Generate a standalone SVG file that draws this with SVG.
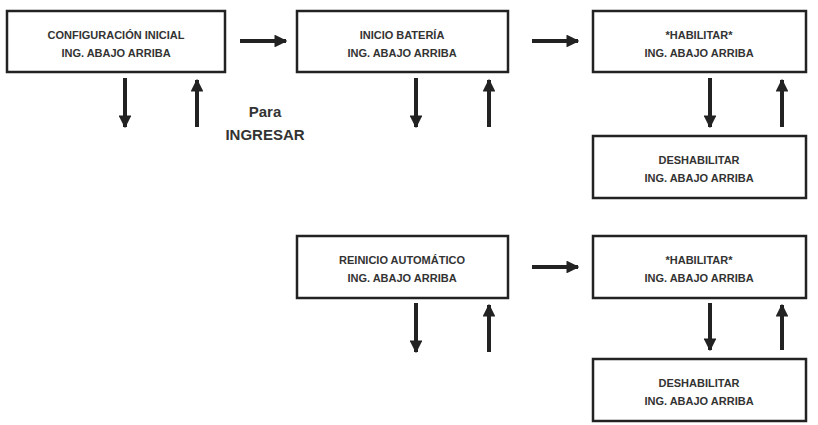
<svg xmlns="http://www.w3.org/2000/svg" width="818" height="425" viewBox="0 0 818 425">
<defs>
<marker id="ah" viewBox="0 0 10 10" refX="9" refY="5" markerWidth="3.2" markerHeight="3.2" orient="auto" markerUnits="strokeWidth"><path d="M0,0L10,5L0,10Z" fill="#222"/></marker>
</defs>
<style>
.b{fill:#fff;stroke:#222;stroke-width:2.5}
.t{font-family:"Liberation Sans",Arial,sans-serif;font-weight:bold;font-size:11px;fill:#333;text-anchor:middle}
.a{stroke:#222;stroke-width:4;fill:none;marker-end:url(#ah)}
.p{font-family:"Liberation Sans",Arial,sans-serif;font-weight:bold;font-size:15px;fill:#333;text-anchor:middle}
</style>
<rect width="818" height="425" fill="#fff"/>
<g id="n1"><rect class="b" x="7" y="11" width="218" height="61"/><text class="t" x="116" y="39">CONFIGURACIÓN INICIAL</text><text class="t" x="116" y="57">ING. ABAJO ARRIBA</text></g>
<g id="n2"><rect class="b" x="297" y="11" width="211" height="61"/><text class="t" x="402" y="39">INICIO BATERÍA</text><text class="t" x="402" y="57">ING. ABAJO ARRIBA</text></g>
<g id="n3"><rect class="b" x="593" y="11" width="213" height="61"/><text class="t" x="699" y="39">*HABILITAR*</text><text class="t" x="699" y="57">ING. ABAJO ARRIBA</text></g>
<g id="n4"><rect class="b" x="593" y="136" width="213" height="62"/><text class="t" x="699" y="164">DESHABILITAR</text><text class="t" x="699" y="182">ING. ABAJO ARRIBA</text></g>
<g id="n5"><rect class="b" x="297" y="236" width="211" height="62"/><text class="t" x="402" y="264">REINICIO AUTOMÁTICO</text><text class="t" x="402" y="282">ING. ABAJO ARRIBA</text></g>
<g id="n6"><rect class="b" x="593" y="236" width="213" height="62"/><text class="t" x="699" y="264">*HABILITAR*</text><text class="t" x="699" y="282">ING. ABAJO ARRIBA</text></g>
<g id="n7"><rect class="b" x="593" y="359" width="213" height="62"/><text class="t" x="699" y="387">DESHABILITAR</text><text class="t" x="699" y="405">ING. ABAJO ARRIBA</text></g>
<g id="lbl"><text class="p" x="265" y="117">Para</text><text class="p" x="265" y="140">INGRESAR</text></g>
<g id="connectors">
<line class="a" x1="240" y1="41" x2="286" y2="41"/>
<line class="a" x1="532" y1="41" x2="578" y2="41"/>
<line class="a" x1="532" y1="267" x2="578" y2="267"/>
<line class="a" x1="125" y1="78" x2="125" y2="127"/>
<line class="a" x1="197" y1="127" x2="197" y2="80"/>
<line class="a" x1="416" y1="78" x2="416" y2="127"/>
<line class="a" x1="489" y1="127" x2="489" y2="80"/>
<line class="a" x1="710" y1="78" x2="710" y2="127"/>
<line class="a" x1="782" y1="127" x2="782" y2="80"/>
<line class="a" x1="416" y1="303" x2="416" y2="352"/>
<line class="a" x1="489" y1="352" x2="489" y2="305"/>
<line class="a" x1="710" y1="303" x2="710" y2="350"/>
<line class="a" x1="782" y1="350" x2="782" y2="305"/>
</g>
</svg>
